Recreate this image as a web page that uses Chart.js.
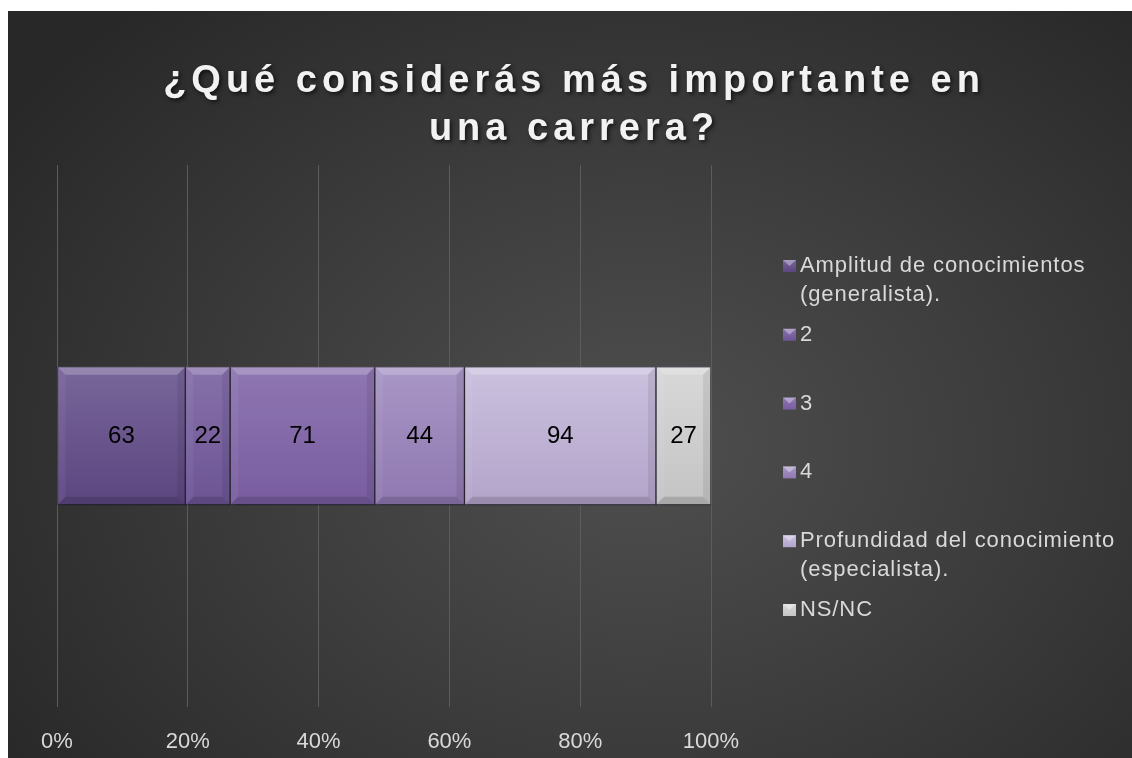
<!DOCTYPE html>
<html>
<head>
<meta charset="utf-8">
<script src="https://cdn.jsdelivr.net/npm/chart.js@4"></script>
<style>
  html, body { margin: 0; padding: 0; background: #fff; }
  #wrap {
    position: absolute; left: 8px; top: 11px; width: 1124px; height: 747px;
    background: radial-gradient(ellipse 68% 78% at 56% 58%, #4f4f4f 0%, #3d3d3d 48%, #282828 100%);
  }
</style>
</head>
<body>
<div id="wrap"><canvas id="chart"></canvas></div>
<script>
const titleLines = ["¿Qué considerás más importante en", "una carrera?"];
const categories = ["Respuestas"];
const seriesNames = [
  "Amplitud de conocimientos (generalista).",
  "2",
  "3",
  "4",
  "Profundidad del conocimiento (especialista).",
  "NS/NC"
];
const seriesValues = [63, 22, 71, 44, 94, 27];
const tickLabels = ["0%", "20%", "40%", "60%", "80%", "100%"];

// top / bottom shade of each segment
const seriesColors = [
  ["#78669a", "#5c4680"],
  ["#8771aa", "#6c5494"],
  ["#8f77b2", "#785ca0"],
  ["#a997c6", "#8f78b0"],
  ["#cbc1de", "#b3a4ca"],
  ["#d8d8d8", "#c4c4c4"]
];

const total = seriesValues.reduce((a, b) => a + b, 0);
const ctx = document.getElementById("chart");

function fillFor(i){
  return (c) => {
    const area = c.chart.chartArea;
    if (!area) return seriesColors[i][0];
    const cy = (area.top + area.bottom) / 2;
    const g = c.chart.ctx.createLinearGradient(0, cy - 69, 0, cy + 69);
    g.addColorStop(0, seriesColors[i][0]);
    g.addColorStop(1, seriesColors[i][1]);
    return g;
  };
}

/* ================= PLUGINS ================= */

const titlePlugin = {
  id: "titleText",
  afterDraw(chart){
    const c = chart.ctx;
    c.save();
    c.font = "bold 38px 'Liberation Sans', Arial, sans-serif";
    c.letterSpacing = "5px";
    c.textAlign = "center";
    c.textBaseline = "middle";
    c.fillStyle = "#f2f2f2";
    c.shadowColor = "rgba(0,0,0,0.65)";
    c.shadowBlur = 4;
    c.shadowOffsetX = 2;
    c.shadowOffsetY = 2;
    const cx = chart.width / 2 + 4;
    c.fillText(titleLines[0], cx, 71);
    c.fillText(titleLines[1], cx, 119);
    c.restore();
  }
};

const shadowPlugin = {
  id: "barShadow",
  beforeDatasetDraw(chart){
    const c = chart.ctx;
    c.save();
    c.shadowColor = "rgba(0,0,0,0.55)";
    c.shadowBlur = 5;
    c.shadowOffsetX = 2;
    c.shadowOffsetY = 3;
  },
  afterDatasetDraw(chart){
    chart.ctx.restore();
  }
};

const bevelPlugin = {
  id: "bevel",
  afterDatasetsDraw(chart){
    const c = chart.ctx;
    const b = 8;
    chart.data.datasets.forEach((ds, di) => {
      chart.getDatasetMeta(di).data.forEach((el) => {
        const p = el.getProps(["x", "y", "base", "height"], true);
        const l = Math.min(p.x, p.base), r = Math.max(p.x, p.base);
        const t = p.y - p.height / 2, btm = p.y + p.height / 2;
        const poly = (pts, col) => {
          c.beginPath();
          c.moveTo(pts[0][0], pts[0][1]);
          for (let k = 1; k < pts.length; k++) c.lineTo(pts[k][0], pts[k][1]);
          c.closePath();
          c.fillStyle = col;
          c.fill();
        };
        c.save();
        poly([[l, t], [r, t], [r - b, t + b], [l + b, t + b]], "rgba(255,255,255,0.22)");
        poly([[l, btm], [r, btm], [r - b, btm - b], [l + b, btm - b]], "rgba(0,0,0,0.14)");
        poly([[l, t], [l + b, t + b], [l + b, btm - b], [l, btm]], "rgba(255,255,255,0.05)");
        poly([[r, t], [r - b, t + b], [r - b, btm - b], [r, btm]], "rgba(0,0,0,0.08)");
        // data label
        c.font = "24px 'Liberation Sans', Arial, sans-serif";
        c.fillStyle = "#000";
        c.textAlign = "center";
        c.textBaseline = "middle";
        c.fillText(String(ds.raw), (l + r) / 2, p.y + 1);
        c.restore();
      });
    });
  }
};

const legendPlugin = {
  id: "sideLegend",
  afterDraw(chart){
    const c = chart.ctx;
    c.save();
    c.font = "22px 'Liberation Sans', Arial, sans-serif";
    c.letterSpacing = "0.9px";
    c.textBaseline = "middle";
    c.textAlign = "left";
    const maxW = 328;
    seriesNames.forEach((name, i) => {
      const y0 = 255 + i * 68.8;
      // wrap
      const words = name.split(" ");
      const lines = [];
      let cur = "";
      words.forEach((w) => {
        const test = cur ? cur + " " + w : w;
        if (c.measureText(test).width > maxW && cur) { lines.push(cur); cur = w; }
        else cur = test;
      });
      lines.push(cur);
      // marker
      const mx = 775, my = y0 - 6, ms = 12;
      const g = c.createLinearGradient(0, my, 0, my + ms);
      g.addColorStop(0, seriesColors[i][0]);
      g.addColorStop(1, seriesColors[i][1]);
      c.fillStyle = g;
      c.fillRect(mx, my, ms + 1, ms);
      c.fillStyle = "rgba(255,255,255,0.35)";
      c.beginPath();
      c.moveTo(mx, my); c.lineTo(mx + ms + 1, my); c.lineTo(mx + ms / 2 + 0.5, my + ms / 2);
      c.closePath(); c.fill();
      c.fillStyle = "#d9d9d9";
      lines.forEach((ln, k) => c.fillText(ln, 792, y0 + k * 29));
    });
    c.restore();
  }
};

/* ================= CHART ================= */

new Chart(ctx, {
  type: "bar",
  data: {
    labels: categories,
    datasets: seriesNames.map((name, i) => ({
      label: name,
      data: [seriesValues[i] / total * 100],
      raw: seriesValues[i],
      backgroundColor: fillFor(i),
      borderColor: "rgba(55,45,70,0.75)",
      borderWidth: 1,
      borderSkipped: false,
      barThickness: 138
    }))
  },
  options: {
    indexAxis: "y",
    responsive: true,
    maintainAspectRatio: false,
    animation: false,
    layout: { padding: { left: 49, right: 421, top: 154, bottom: -19 } },
    plugins: {
      legend: { display: false },
      title: { display: false },
      tooltip: { enabled: false }
    },
    scales: {
      x: {
        stacked: true,
        min: 0,
        max: 100,
        border: { display: false },
        grid: { color: "#5c5c5c", lineWidth: 1, drawTicks: false },
        ticks: {
          stepSize: 20,
          padding: 22,
          color: "#d9d9d9",
          font: { size: 22, family: "'Liberation Sans', Arial, sans-serif" },
          callback: (v) => tickLabels[Math.round(v / 20)]
        }
      },
      y: { stacked: true, display: false }
    }
  },
  plugins: [shadowPlugin, bevelPlugin, titlePlugin, legendPlugin]
});
</script>
</body>
</html>
